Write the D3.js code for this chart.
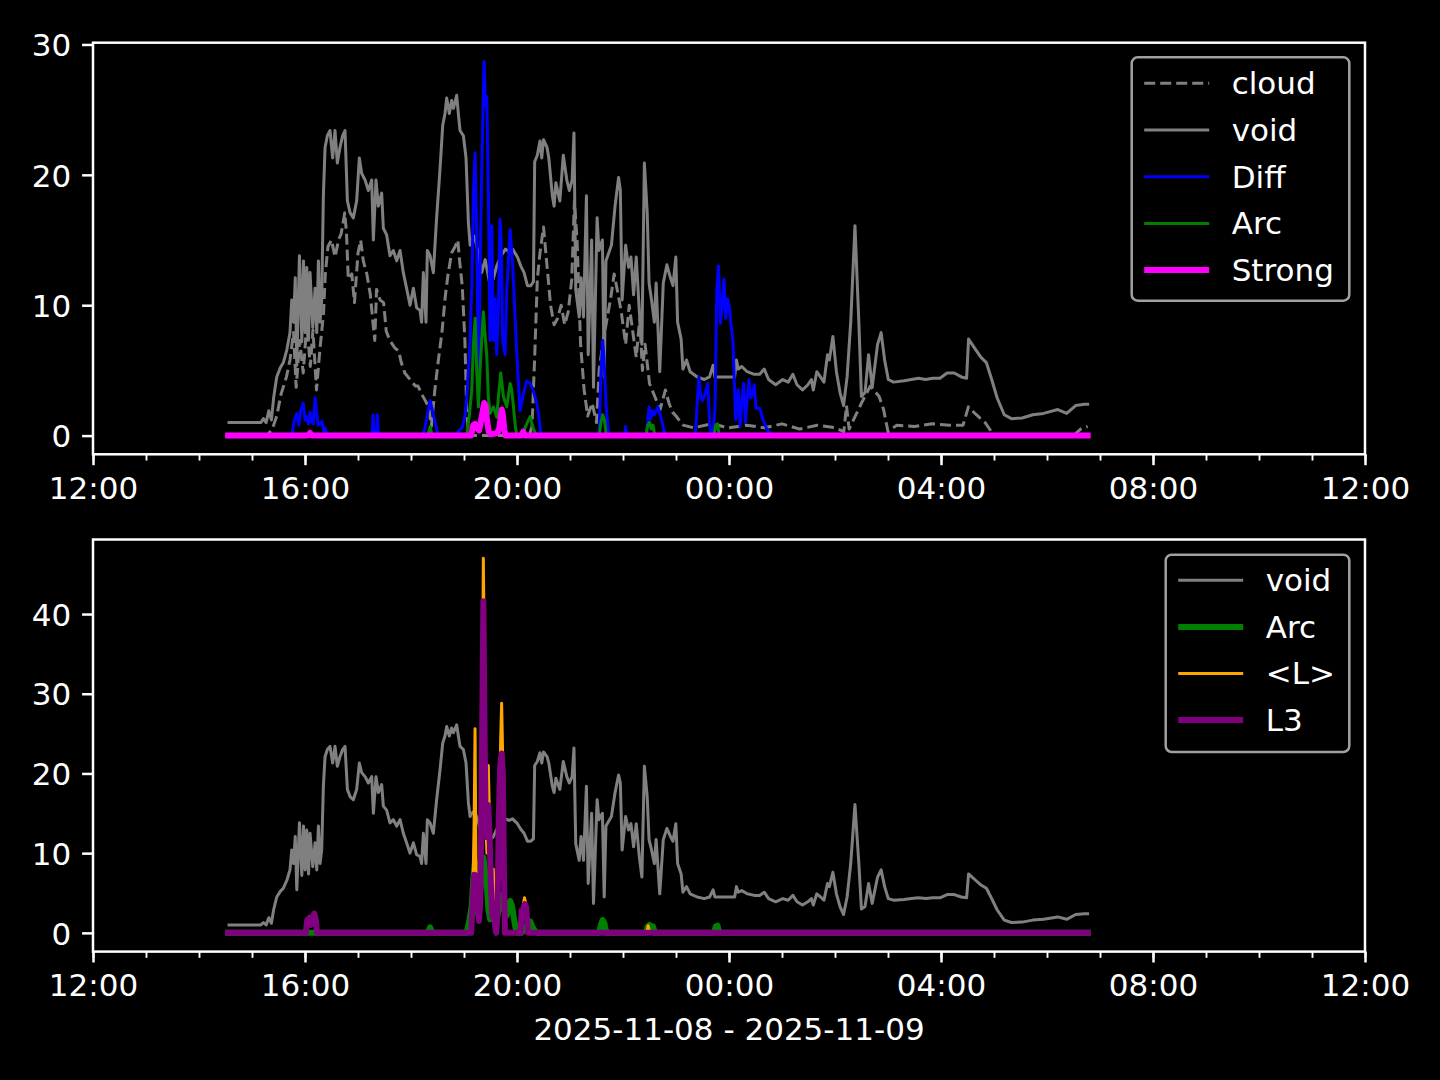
<!DOCTYPE html>
<html>
<head>
<meta charset="utf-8">
<script src="https://cdn.jsdelivr.net/npm/d3@7/dist/d3.min.js"></script>
<style>
  body { margin: 0; background: #000; }
  text { font-family: "DejaVu Sans", sans-serif; fill: #fff; }
</style>
</head>
<body>
<script>

// all series: [minutes after 2025-11-08 12:00, value]
var cloudData = [[155,0],[197,0],[203,0.5],[208,1.5],[213,3.2],[219,4.5],[223,5.8],[227,7.9],[230,3.7],[234,7.3],[238,4.8],[242,8.6],[246,5.3],[249,8.1],[253,3.5],[257,6.7],[261,9.4],[263,12.4],[266,14.5],[270,15],[274,13.7],[278,15],[281,15.5],[285,17.1],[287,15.5],[289,12],[293,12.4],[296,10.2],[300,14],[303,15],[306,13.4],[310,12.4],[314,10.8],[317,8.6],[319,7.3],[321,11.2],[325,10.4],[329,10.2],[332,8],[336,7.3],[342,6.7],[346,6.5],[349,5.6],[353,4.8],[359,4.3],[365,3.8],[368,3.8],[372,3.2],[376,2.7],[380,2.2],[383,0.7],[387,3.5],[391,5.8],[395,7.9],[399,10.8],[402,12.4],[406,14],[410,14.5],[413,15],[415,13.4],[418,11.5],[421,7.3],[423,2.2],[425,0],[494,0],[497,0.7],[500,6],[503,12],[506,14],[510,16],[514,13],[518,10],[522,8.5],[526,9],[530,10],[534,8.5],[538,9.5],[542,12],[545,18],[548,15],[552,7],[556,3.5],[560,1.5],[565,2.5],[570,1],[573,5],[577,7],[581,8.6],[586,10.5],[590,12.4],[594,11],[598,9.5],[603,7],[607,10],[611,8],[615,6],[619,9],[622,5],[625,7],[630,4],[636,3],[642,2],[648,3.5],[652,2.5],[656,1.8],[660,1.5],[668,0.8],[680,0.6],[700,0.9],[720,0.6],[740,0.8],[760,0.6],[780,0.9],[800,0.5],[820,0.8],[840,0.6],[850,0.3],[853,2.3],[856,0.5],[870,2.5],[880,3.8],[890,3.0],[895,2],[900,0.3],[910,0.8],[930,0.7],[950,0.9],[970,0.8],[985,0.8],[991,2.2],[1000,1.6],[1010,1.0],[1020,0],[1110,0],[1118,0.5],[1126,0.7]];

var voidData = [[154,1.0],[170,1.0],[190,1.0],[193,1.3],[196,1.0],[199,1.9],[202,1.2],[204.5,2.9],[208,4.5],[212,5.2],[215.5,5.6],[219.5,6.6],[223,7.9],[225,10.4],[227,8.7],[229,12.1],[230.7,5.4],[233.7,13.8],[236.4,7.2],[238.3,13.4],[240.2,7.9],[242,12.9],[244,7.4],[245.7,12.5],[248.8,8.3],[251.4,11.3],[253.3,7.9],[255.2,13.4],[257,8.7],[258.9,10.4],[260.8,18.4],[262.7,22.1],[265.3,23],[268.3,23.4],[271.3,21.3],[274,23.4],[276.6,20.9],[279.6,22.1],[282.6,23],[285.3,23.4],[288,18],[291,17.1],[294.7,16.7],[298.5,18],[301.5,21.3],[304.2,20.1],[308,19.6],[311.7,18.8],[315.5,19.6],[317.4,15],[320.4,19.6],[323,17.6],[326.8,18.6],[328.7,15.9],[332.4,15.4],[336.2,13.8],[340,14.2],[343.8,13.4],[347.6,14.2],[351.3,12.5],[355,11.3],[358.9,10],[362.7,11.3],[366.4,9.8],[370.2,9.6],[372,8.7],[374,12.5],[377,8.7],[378.5,14.2],[381.6,13.8],[385.3,12.5],[389,16.7],[392.9,20.5],[395.9,23.8],[398.5,24.7],[400.4,25.9],[403.4,24.7],[406,25.7],[408,25.1],[411.7,26.1],[413.6,24.7],[415.5,23.4],[419.3,23],[422.3,21.3],[425,16.3],[426.9,14.6],[428.8,15],[432,15.3],[436,14],[440,12.5],[444,13.5],[449,11.7],[453,12],[457,13],[462,13.8],[467,14.3],[471,14.1],[475,14.3],[480.5,13.7],[484.3,13],[488,12.5],[491.8,11.5],[495.6,11.5],[498.6,11.8],[500,21],[503,21.5],[506,22.6],[508,21.3],[510,22.7],[514,22.1],[516,21.3],[520,18.4],[522,17.6],[524,19.4],[528.5,18],[532.4,21.5],[536.4,19.6],[539.2,18.8],[542.4,19.6],[544.5,23.2],[546.5,11.2],[550.4,9.1],[552.5,12.1],[555.3,9.1],[558.6,18.4],[560.6,6.2],[564.5,15],[566.6,3.7],[570.7,16.7],[572.7,14.2],[576.7,15],[578.7,4.5],[580.7,13.4],[586.9,14.6],[591,17.6],[595,19.8],[597,18.8],[599,10.4],[603,14.6],[606.3,12.9],[609,13.7],[612,10.8],[615,13.7],[618.5,9.5],[621.4,7.0],[624.2,20.9],[627.4,17.1],[629.5,11.7],[632.3,10.4],[635.5,8.7],[637.5,11.7],[641.6,4.9],[645.6,11.7],[649.7,13.1],[653.7,12.1],[656.6,11.5],[659.8,13.7],[661.8,8.7],[665.8,7.4],[667.8,5.1],[671.9,5.8],[676,4.9],[684,4.5],[692,4.3],[698,4.5],[702,5.4],[704,4.5],[712,4.5],[720,4.5],[726.4,4.5],[728.4,5.8],[730.5,5.1],[734.5,5.3],[740.6,4.9],[748.6,4.7],[754.7,4.7],[759.9,5.1],[764.8,4.3],[772.8,3.9],[780.9,4.3],[787,4.1],[792.3,4.7],[797,3.9],[803.2,3.5],[809.3,3.9],[813.3,4.3],[815.4,3.5],[819.4,4.9],[823.5,4.5],[827.5,4.1],[831.5,6.2],[833.6,5.8],[837.6,7.6],[841.6,4.9],[845.7,3.3],[849.7,2.3],[853.7,4.5],[857.8,8.7],[862.6,16.1],[867,8.7],[869.9,3.0],[874,3.3],[878,6.2],[882.1,3.7],[888.2,7.0],[892.2,7.9],[896.2,5.8],[900.3,4.3],[906.3,4.1],[918.4,4.2],[926.5,4.3],[934.6,4.4],[942.6,4.3],[950.7,4.4],[958.8,4.4],[966.9,4.8],[975,4.8],[983,4.5],[989,4.4],[991.2,7.4],[995.2,7.0],[999.2,6.6],[1005.3,6.0],[1011.4,5.6],[1017.4,4.3],[1023.5,2.9],[1031.6,1.6],[1039.7,1.3],[1051.8,1.35],[1063.9,1.6],[1076.1,1.7],[1092.2,2.0],[1102.3,1.7],[1112.4,2.3],[1122.5,2.4],[1126,2.4]];

var diffData = [[153,0],[225,0],[228,1.2],[230.7,1.7],[233,0.8],[235,1.9],[238,2.5],[240,1.2],[242,1.45],[244,0.9],[245.7,1.8],[248,1.0],[249.5,0.9],[251.4,2.9],[253.3,1.7],[255,0.8],[257,0.9],[259,1.1],[261,0.4],[262.7,0.6],[265,0],[316,0],[317,1.6],[318.5,0],[321,0],[322,1.6],[323,0],[373,0],[376,0.6],[379,1.8],[381.6,2.7],[385,1.7],[388,0.8],[390.8,0],[412,0],[414,0.4],[418,0.6],[421,1.5],[423,2.8],[426.9,7.3],[429,12],[430.7,18.8],[432.6,21.7],[434.5,15],[436.3,4.8],[438.2,12.4],[440,20],[441.2,24],[442.8,28.7],[444.3,25.2],[445.8,26],[447.5,19],[449.5,7.3],[451.4,16.1],[453.3,7.3],[455.2,10.5],[457,6.2],[459,10],[460.8,16.6],[462,15],[463.8,7.3],[466.5,6.2],[468.4,11.2],[470,13],[472.2,15.8],[475.2,13],[479,7.3],[481,4.8],[483.5,1.9],[487.3,3.2],[491,4.2],[494.8,4],[498.6,3.4],[502.4,2.5],[504.3,1.7],[507,0.1],[508,0],[572.9,0],[575,4.8],[577,7.3],[578.3,6.1],[581,2.2],[583.7,0],[602,0],[603,0.7],[604,0],[626.6,0],[629.5,2.2],[631.5,1.3],[633.6,1.9],[635.6,1.6],[639.6,2.2],[643.7,1.2],[647.7,0],[682,0],[684,2.5],[686,4.5],[688,3.0],[690,2.7],[692.9,3.2],[696,4.0],[698,0.9],[700,0],[702,0],[704.2,2.2],[706.2,11.2],[708.2,13],[710.2,8.6],[712.3,10],[714.3,12],[716.3,9],[718.3,10.5],[720.3,9.9],[722.3,8.5],[724.4,7.3],[727.6,1.2],[730.5,3.5],[732.5,0.7],[734.5,2.5],[736.5,4.0],[738.6,1.0],[740.6,2.8],[742.6,4.3],[744.6,2.9],[746.6,3.2],[748.6,3.9],[750.6,2.1],[754.7,2.1],[758.7,1.2],[762.8,0.5],[768.8,0],[1126,0]];

var arcData = [[153,0],[379,0],[381.6,0.7],[384,0],[423,0],[426,1.5],[428.8,3.5],[430.6,7],[432.6,9.0],[434.5,4.8],[436.3,2.2],[438.1,5],[440,7.3],[441.9,9.5],[443.5,8],[445.8,6.1],[447.5,3],[449.5,1.7],[453.3,2.2],[457,1.4],[459,3],[461.6,4.8],[464.6,3.0],[468.4,2.2],[472.2,4.0],[474,3.5],[476,2.2],[478,0.8],[479.8,0],[485,0],[487.3,0.3],[491,0.9],[494.8,1.45],[498.6,0.5],[502.4,0],[573,0],[575,1.0],[577,1.6],[579,1.2],[581,0],[626,0],[628,0.8],[630,1.0],[632,0.5],[634,0.8],[636,0],[703,0],[705,0.8],[707,0.9],[709,0],[1126,0]];

var strongData = [[153,0],[243,0],[245.7,0.2],[248,0],[428,0],[430.5,0.8],[432.5,0.9],[434.5,0.6],[437,0.4],[439,1.0],[441,1.8],[442.8,2.5],[444.5,2.3],[446,1.2],[448,0.3],[450,0.1],[458,0.2],[460,0.6],[461.5,1.4],[462.8,2.0],[464.2,1.5],[465.5,0.5],[467,0],[485,0],[487,0.3],[489,0],[1126,0]];

var lMeanData = [[153,0],[241,0],[243,1.8],[245,2.0],[247,1.2],[249,2.2],[250.5,2.5],[252,2.0],[253,0],[428,0],[430,5],[431.5,14],[432.5,25.6],[433.5,8],[435,4],[437,2],[439,6],[440.5,20],[441.9,47],[443.3,30],[444.5,14],[446,10],[447.5,21],[448.7,15],[450,8],[451.5,4],[453.2,8],[454.5,2],[456,0.5],[458,2],[460,12],[461.5,24],[462.6,28.8],[463.8,22],[465,8],[466.5,0],[484,0],[485.5,2.5],[487,3.4],[488.5,4.4],[490,3.6],[491.5,1.5],[493,0],[627,0],[628.5,0.9],[630,0],[1126,0]];

var l3Data = [[153,0],[241,0],[242.5,1.6],[244.5,1.8],[246.5,1.0],[248.5,2.0],[250.5,2.4],[252.5,1.5],[253.5,0],[428,0],[430,4],[431.5,7.3],[433.5,7.2],[435.5,5],[437,1.5],[438.5,4],[440,18],[441.9,41.6],[443.3,25],[444.5,14],[446,12],[447.5,16],[449,12],[450.5,6],[452,2],[453.5,3],[455,1],[456.5,0],[458,3],[459.5,15],[461,21],[462.6,22.5],[464,20],[465.2,8],[466.4,0],[484,0],[485.2,2.8],[487,2.9],[489,3.6],[490.5,3.2],[492.6,0],[1126,0]];

var topYTicks = [0, 10, 20, 30];
var bottomYTicks = [0, 10, 20, 30, 40];
var xLabel = "2025-11-08 - 2025-11-09";

var startTime = new Date(2025, 10, 8, 12, 0);
var endTime = new Date(2025, 10, 9, 12, 0);
function toDate(m) { return new Date(startTime.getTime() + m * 60000); }

var svgWidth = 1440, svgHeight = 1080;
var left = 93, right = 1365;
var fontSize = 31;

var svg = d3.select("body").append("svg").attr("width", svgWidth).attr("height", svgHeight);
svg.append("rect").attr("width", svgWidth).attr("height", svgHeight).attr("fill", "#000");

var xScale = d3.scaleTime().domain([startTime, endTime]).range([left, right]);

var topSeries = [
  {name: "cloud", data: cloudData, color: "#808080", width: 3, dash: "11,5"},
  {name: "void", data: voidData, color: "#808080", width: 3},
  {name: "Diff", data: diffData, color: "#0000ff", width: 3},
  {name: "Arc", data: arcData, color: "#008000", width: 3},
  {name: "Strong", data: strongData, color: "#ff00ff", width: 6}
];
var bottomSeries = [
  {name: "void", data: voidData, color: "#808080", width: 3},
  {name: "Arc", data: arcData, color: "#008000", width: 6},
  {name: "<L>", data: lMeanData, color: "#ffa500", width: 3},
  {name: "L3", data: l3Data, color: "#800080", width: 6}
];

function drawPanel(top, bottom, yDomain, yTicks, series, legend) {
  var yScale = d3.scaleLinear().domain(yDomain).range([bottom, top]);
  var g = svg.append("g");

  var line = d3.line()
      .x(function(d) { return xScale(toDate(d[0])); })
      .y(function(d) { return yScale(d[1]); });

  series.forEach(function(s) {
    g.append("path")
      .datum(s.data)
      .attr("d", line)
      .attr("fill", "none")
      .attr("stroke", s.color)
      .attr("stroke-width", s.width)
      .attr("stroke-linejoin", "round")
      .attr("stroke-linecap", s.dash ? "butt" : "square")
      .attr("stroke-dasharray", s.dash || null);
  });

  // spines
  g.append("rect")
    .attr("x", left).attr("y", top)
    .attr("width", right - left).attr("height", bottom - top)
    .attr("fill", "none").attr("stroke", "#fff").attr("stroke-width", 2.5);

  // x axis
  var xMinor = d3.axisBottom(xScale).ticks(d3.timeHour.every(1)).tickSize(6.25).tickFormat("");
  var xMajor = d3.axisBottom(xScale).ticks(d3.timeHour.every(4)).tickSize(10.9)
      .tickPadding(10.9).tickFormat(d3.timeFormat("%H:%M"));
  var gm = g.append("g").attr("transform", "translate(0," + bottom + ")").call(xMinor);
  gm.select(".domain").remove();
  gm.selectAll("line").attr("stroke", "#fff").attr("stroke-width", 1.9);
  var gx = g.append("g").attr("transform", "translate(0," + bottom + ")").call(xMajor);
  gx.select(".domain").remove();
  gx.selectAll("line").attr("stroke", "#fff").attr("stroke-width", 2.5);
  gx.selectAll("text").attr("font-size", fontSize).attr("font-family", "DejaVu Sans")
    .attr("fill", "#fff").attr("dy", "0.74em");

  // y axis
  var yAxis = d3.axisLeft(yScale).tickValues(yTicks).tickSize(10.9).tickPadding(10.9);
  var gy = g.append("g").attr("transform", "translate(" + left + ",0)").call(yAxis);
  gy.select(".domain").remove();
  gy.selectAll("line").attr("stroke", "#fff").attr("stroke-width", 2.5);
  gy.selectAll("text").attr("font-size", fontSize).attr("font-family", "DejaVu Sans")
    .attr("fill", "#fff").attr("dy", "0.36em");

  // legend
  var lg = g.append("g");
  lg.append("rect")
    .attr("x", legend.x).attr("y", legend.y)
    .attr("width", legend.w).attr("height", legend.h)
    .attr("rx", 6).attr("ry", 6)
    .attr("fill", "#000").attr("stroke", "#a0a0a0").attr("stroke-width", 2.5);
  series.forEach(function(s, i) {
    var ly = legend.firstRow + i * legend.step;
    lg.append("line")
      .attr("x1", legend.x + 12.5).attr("x2", legend.x + 77.5)
      .attr("y1", ly).attr("y2", ly)
      .attr("stroke", s.color).attr("stroke-width", s.width)
      .attr("stroke-dasharray", s.dash || null);
    lg.append("text")
      .attr("x", legend.x + 100).attr("y", ly + 10.8)
      .attr("font-size", fontSize)
      .text(s.name);
  });
}

drawPanel(42.7, 454.3, [-1.435, 30.135], topYTicks, topSeries,
  {x: 1131.7, y: 57.3, w: 217.6, h: 243.4, firstRow: 83.3, step: 46.7});
drawPanel(539.5, 951.6, [-2.35, 49.35], bottomYTicks, bottomSeries,
  {x: 1165.7, y: 554.7, w: 183.6, h: 197.3, firstRow: 580.3, step: 46.6});

svg.append("text")
  .attr("x", (left + right) / 2).attr("y", 1040)
  .attr("text-anchor", "middle")
  .attr("font-size", fontSize)
  .text(xLabel);

</script>
</body>
</html>
